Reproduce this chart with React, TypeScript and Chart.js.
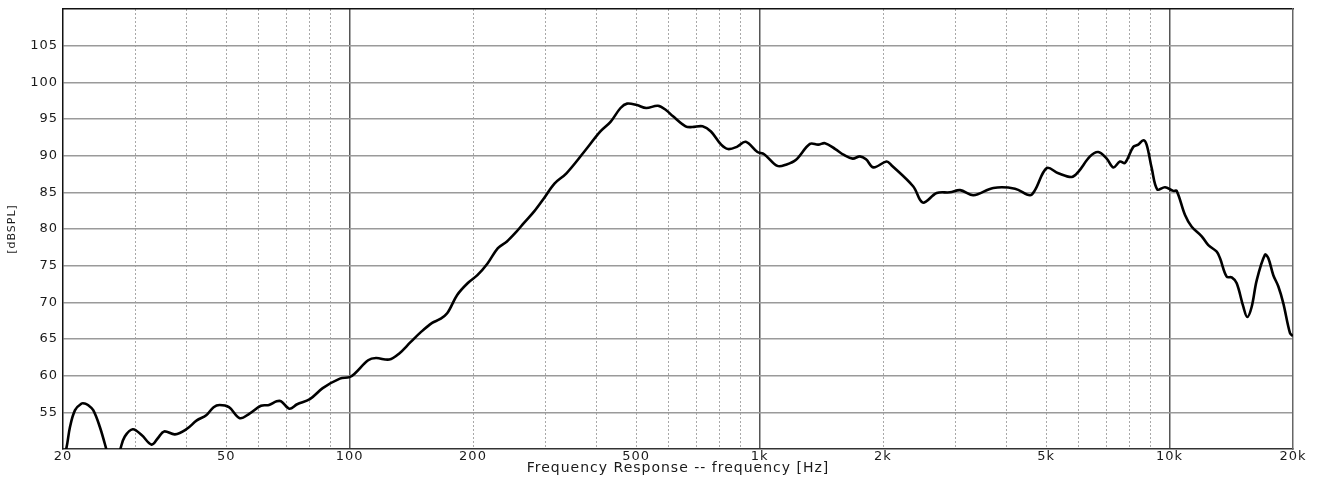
import React, { useEffect, useRef } from "react";
import { Chart, registerables } from "chart.js";

Chart.register(...registerables);

// Frequency response data
const FREQ_HZ = [
  20, 20.4, 20.8, 21.4, 22.2, 22.6, 23.0, 23.7, 24.6, 25.5, 26.5, 27.6, 28.3, 29.6, 31.1, 32.9,
  34.1, 35.3, 37.5, 40.0, 42.4, 44.7, 46.6, 48.2, 50.8, 54.0, 56.9, 60.8, 63.6, 66.4, 68.1,
  71.3, 74.5, 80.0, 86.0, 94.7, 100, 103, 111, 116, 125, 132, 141, 149, 159, 166, 173, 183,
  194, 205, 217, 230, 242, 255, 266, 282, 298, 316, 338, 373, 409, 433, 458, 475, 502, 529,
  565, 592, 614, 660, 685, 726, 761, 806, 838, 880, 925, 988, 1026, 1105, 1164, 1225, 1327,
  1390, 1444, 1530, 1606, 1687, 1757, 1818, 1896, 2040, 2097, 2371, 2501, 2704, 2914, 3084,
  3322, 3716, 4198, 4566, 4696, 5016, 5355, 5771, 5990, 6396, 6700, 7024, 7290, 7568, 7784,
  8156, 8388, 8628, 8790, 9045, 9333, 9746, 10210, 10406, 10906, 11324, 11978, 12430, 13030,
  13276, 13780, 14176, 14580, 15130, 15470, 15860, 16312, 17092, 17416, 17906, 18412, 18936,
  19666, 20000,
];

const SPL_DB = [
  48.6, 50.2, 53.0, 55.3, 56.2, 56.2, 56.0, 55.3, 53.0, 50.0, 46.5, 50.0, 51.7, 52.7, 51.9, 50.6,
  51.5, 52.4, 52.0, 52.7, 53.9, 54.6, 55.7, 56.0, 55.7, 54.2, 54.8, 55.9, 56.0, 56.5, 56.5,
  55.5, 56.1, 56.8, 58.3, 59.6, 59.8, 60.3, 62.1, 62.4, 62.2, 63.0, 64.6, 65.9, 67.2, 67.7, 68.5, 71.0,
  72.6, 73.7, 75.3, 77.4, 78.3, 79.6, 80.8, 82.4, 84.2, 86.2, 87.6, 90.5, 93.3, 94.6, 96.5, 97.1, 96.9, 96.5,
  96.8, 96.2, 95.4, 94.0, 93.9, 94.0, 93.3, 91.5, 90.9, 91.2, 91.9, 90.5, 90.2, 88.6, 88.8, 89.4, 91.6,
  91.5, 91.7, 90.9, 90.1, 89.6, 89.9, 89.5, 88.4, 89.2, 88.7, 85.8, 83.6, 84.9, 85.0, 85.3,
  84.6, 85.6, 85.5, 84.6, 85.3, 88.3, 87.6, 87.1, 87.8, 89.9, 90.5, 89.6, 88.4, 89.2, 89.0,
  91.2, 91.5, 92.1, 91.5, 88.3, 85.4, 85.7, 85.2, 85.2, 81.9, 80.3, 79.0, 77.8, 76.9,
  76.0, 73.5, 73.4, 72.6, 69.4, 68.0, 69.4, 73.0, 76.5, 76.0, 73.7, 72.2, 69.9,
  65.8, 65.4,
];

// Axis ticks
const X_TICK_VALUES = [20, 50, 100, 200, 500, 1000, 2000, 5000, 10000, 20000];
const X_TICK_LABELS = ["20", "50", "100", "200", "500", "1k", "2k", "5k", "10k", "20k"];
const X_DECADES = [100, 1000, 10000];
const X_MINOR_GRID = [
  30, 40, 50, 60, 70, 80, 90,
  200, 300, 400, 500, 600, 700, 800, 900,
  2000, 3000, 4000, 5000, 6000, 7000, 8000, 9000,
];
const Y_GRID = [50, 55, 60, 65, 70, 75, 80, 85, 90, 95, 100, 105, 110];
const Y_TICK_LABELS = ["55", "60", "65", "70", "75", "80", "85", "90", "95", "100", "105"];

const X_TITLE = "Frequency Response -- frequency [Hz]";
const Y_TITLE = "[dBSPL]";

const FONT = "'DejaVu Sans', 'Liberation Sans', Arial, sans-serif";

const spacingPlugin = {
  id: "letterSpacing",
  beforeUpdate(chart: any) {
    if (chart.ctx) chart.ctx.letterSpacing = "1px";
  },
  beforeDraw(chart: any) {
    if (chart.ctx) chart.ctx.letterSpacing = "1px";
  },
};

export default function App() {
  const canvasRef = useRef<HTMLCanvasElement | null>(null);

  useEffect(() => {
    if (!canvasRef.current) return;
    const points = FREQ_HZ.map((f, i) => ({ x: f, y: SPL_DB[i] }));

    const chart = new Chart(canvasRef.current, {
      type: "line",
      data: {
        datasets: [
          {
            data: points,
            xAxisID: "x",
            yAxisID: "y",
            borderColor: "#000000",
            borderWidth: 2.6,
            pointRadius: 0,
            tension: 0.35,
            fill: false,
          },
        ],
      },
      plugins: [spacingPlugin],
      options: {
        animation: false,
        responsive: true,
        maintainAspectRatio: false,
        layout: { padding: { top: 9, right: 28, left: 0, bottom: 0 } },
        plugins: {
          legend: { display: false },
          tooltip: { enabled: false },
        },
        scales: {
          x: {
            type: "logarithmic",
            position: "bottom",
            min: 20,
            max: 20000,
            afterBuildTicks: (s: any) => {
              s.ticks = X_TICK_VALUES.map((v) => ({ value: v }));
            },
            afterFit: (s: any) => {
              s.height = 30;
              s.paddingLeft = 0;
              s.paddingRight = 0;
            },
            ticks: {
              autoSkip: false,
              maxRotation: 0,
              padding: 0,
              color: "#1a1a1a",
              font: { family: FONT, size: 13 },
              callback: (value: any) => {
                const i = X_TICK_VALUES.indexOf(Number(value));
                return i >= 0 ? X_TICK_LABELS[i] : "";
              },
            },
            grid: {
              drawTicks: false,
              color: (ctx: any) =>
                ctx.tick && X_DECADES.includes(ctx.tick.value) ? "#555555" : "rgba(0,0,0,0)",
              lineWidth: 1.5,
            },
            border: { display: true, color: "#333333", width: 1.5 },
            title: {
              display: true,
              text: X_TITLE,
              color: "#1a1a1a",
              font: { family: FONT, size: 14 },
              padding: { top: 0, bottom: 2 },
            },
          },
          xMinor: {
            type: "logarithmic",
            position: "bottom",
            min: 20,
            max: 20000,
            afterBuildTicks: (s: any) => {
              s.ticks = X_MINOR_GRID.map((v) => ({ value: v }));
            },
            afterFit: (s: any) => {
              s.height = 0;
              s.paddingLeft = 0;
              s.paddingRight = 0;
            },
            ticks: { display: false },
            grid: {
              drawTicks: false,
              color: "#a8a8a8",
              lineWidth: 1,
            },
            border: { display: false, dash: [2, 2] },
          },
          xTop: {
            type: "linear",
            position: "top",
            min: 0,
            max: 1,
            afterFit: (s: any) => {
              s.height = 0;
              s.paddingLeft = 0;
              s.paddingRight = 0;
            },
            ticks: { display: false },
            grid: { drawOnChartArea: false, drawTicks: false },
            border: { display: true, color: "#111111", width: 1.5 },
          },
          y: {
            type: "linear",
            position: "left",
            min: 50,
            max: 110,
            afterBuildTicks: (s: any) => {
              s.ticks = Y_GRID.map((v) => ({ value: v }));
            },
            afterFit: (s: any) => {
              s.width = 63;
              s.paddingTop = 0;
              s.paddingBottom = 0;
            },
            ticks: {
              padding: 5,
              color: "#1a1a1a",
              font: { family: FONT, size: 13 },
              callback: (value: any) => {
                const label = String(value);
                return Y_TICK_LABELS.includes(label) ? label : "";
              },
            },
            grid: {
              drawTicks: false,
              color: (ctx: any) =>
                ctx.tick && (ctx.tick.value === 50 || ctx.tick.value === 110)
                  ? "rgba(0,0,0,0)"
                  : "#9a9a9a",
              lineWidth: 1.5,
            },
            border: { display: true, color: "#111111", width: 1.5 },
            title: {
              display: true,
              text: Y_TITLE,
              color: "#1a1a1a",
              font: { family: FONT, size: 11 },
              padding: { top: 5.5, bottom: 0 },
            },
          },
          yRight: {
            type: "linear",
            position: "right",
            min: 0,
            max: 1,
            afterFit: (s: any) => {
              s.width = 0;
              s.paddingTop = 0;
              s.paddingBottom = 0;
            },
            ticks: { display: false },
            grid: { drawOnChartArea: false, drawTicks: false },
            border: { display: true, color: "#666666", width: 1.5 },
          },
        },
      },
    });

    return () => {
      chart.destroy();
    };
  }, []);

  return (
    <div style={{ position: "absolute", left: 0, top: 0, width: 1321, height: 479, background: "#ffffff" }}>
      <canvas ref={canvasRef} />
    </div>
  );
}
